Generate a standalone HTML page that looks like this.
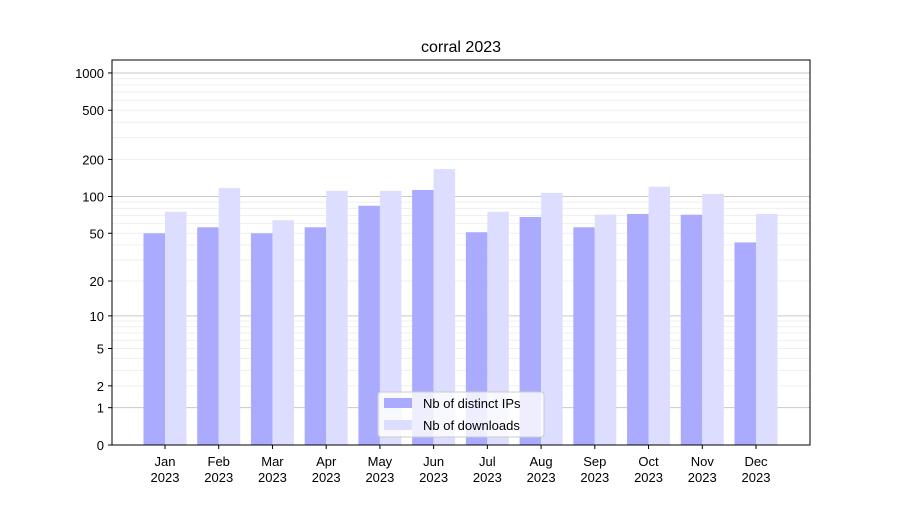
<!DOCTYPE html>
<html><head><meta charset="utf-8"><style>
body{margin:0;background:#fff;font-family:"Liberation Sans",sans-serif;}
svg text{font-family:"Liberation Sans",sans-serif;}
</style></head><body>
<svg id="chart" width="900" height="500">
<rect width="900" height="500" fill="#fff"/>
<text x="461" y="52" font-size="16" text-anchor="middle">corral 2023</text>
<g id="grid"></g><g id="bars"></g><g id="axes"></g>
</svg>
<script>
const months=["Jan","Feb","Mar","Apr","May","Jun","Jul","Aug","Sep","Oct","Nov","Dec"];
const ips=[50,56,50,56,84,113,51,68,56,72,71,42];
const downloads=[75,117,64,111,111,167,75,107,71,120,105,72];
const yTicks=[0,1,2,5,10,20,50,100,200,500,1000];
const L=112,R=810,T=60,B=445;
const ns="http://www.w3.org/2000/svg";
function y(v){return B-124*Math.log10(1+v);}
function xc(i){return 165+i*(756-165)/11;}
function mk(tag,attrs,parent){const e=document.createElementNS(ns,tag);for(const k in attrs)e.setAttribute(k,attrs[k]);parent.appendChild(e);return e;}
const grid=document.getElementById('grid'),bars=document.getElementById('bars'),axes=document.getElementById('axes');
for(let d=1;d<=1000;d*=10){for(let m=1;m<10;m++){const v=d*m;if(v>1200)break;const g=mk('line',{x1:L,x2:R,y1:y(v),y2:y(v),stroke:m==1?'#c8c8c8':'#efefef','stroke-width':1},grid);

}}
months.forEach((m,i)=>{
 const a=mk('rect',{x:xc(i)-21.5,y:y(ips[i]),width:21.5,height:B-y(ips[i]),fill:'#aaaaff'},bars);
 
 
 const b=mk('rect',{x:xc(i),y:y(downloads[i]),width:21.5,height:B-y(downloads[i]),fill:'#ddddff'},bars);
 
 
 mk('line',{x1:xc(i),x2:xc(i),y1:B,y2:B+4,stroke:'#000'},axes);
 const t=mk('text',{x:xc(i),y:B+21,'font-size':13,'text-anchor':'middle'},axes);
 
 
 t.innerHTML='<tspan x="'+xc(i)+'">'+m+'</tspan><tspan x="'+xc(i)+'" dy="16">2023</tspan>';
});
yTicks.forEach(v=>{
 mk('line',{x1:L-4,x2:L,y1:y(v),y2:y(v),stroke:'#000'},axes);
 const t=mk('text',{x:L-8,y:y(v)+5,'font-size':13,'text-anchor':'end'},axes);
 
 
 t.textContent=v;
});
const f=mk('rect',{x:L,y:T,width:R-L,height:B-T,fill:'none',stroke:'#000','stroke-width':1},axes);


const lg=mk('g',{},axes);


mk('rect',{x:378,y:392,width:166,height:45,rx:3,fill:'#fff','fill-opacity':0.8,stroke:'#ccc'},lg);
mk('rect',{x:384,y:398,width:28,height:10,fill:'#aaaaff'},lg);
mk('rect',{x:384,y:420,width:28,height:10,fill:'#ddddff'},lg);
const l1=mk('text',{x:423,y:408,'font-size':13},lg);l1.textContent='Nb of distinct IPs';


const l2=mk('text',{x:423,y:430,'font-size':13},lg);l2.textContent='Nb of downloads';


</script>
</body></html>
